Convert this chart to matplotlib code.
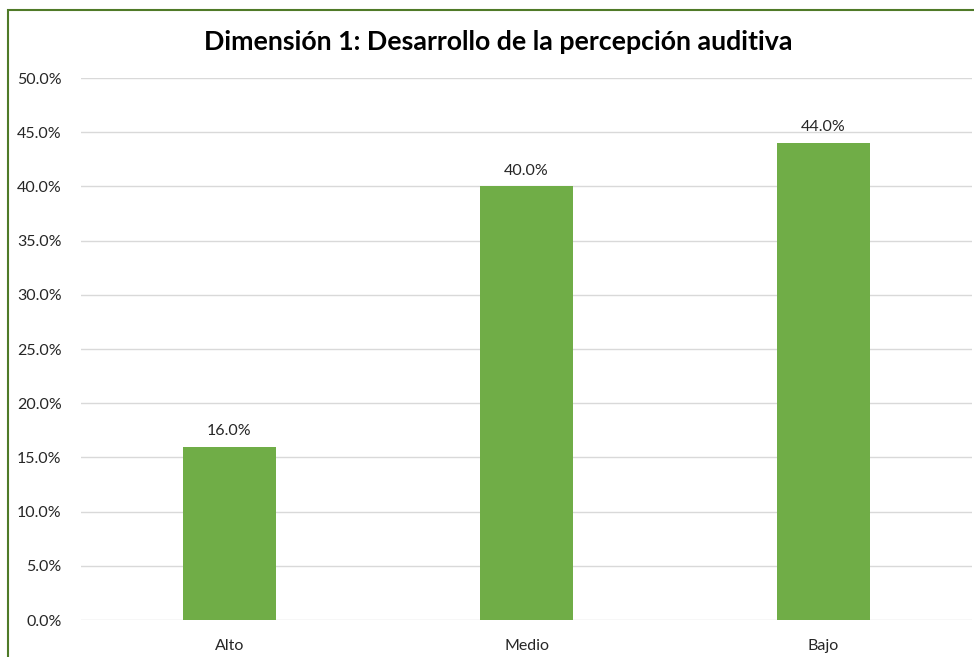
import matplotlib
matplotlib.use("Agg")
import matplotlib.pyplot as plt
from matplotlib.patches import Rectangle
from matplotlib.ticker import FuncFormatter, MultipleLocator

categories = ["Alto", "Medio", "Bajo"]
values = [16.0, 40.0, 44.0]
title = "Dimensión 1: Desarrollo de la percepción auditiva"

plt.rcParams['font.family'] = ['Lato', 'DejaVu Sans']

fig = plt.figure(figsize=(9.74, 6.57), dpi=100)
ax = fig.add_axes([81/974, 37/657, 891/974, 542/657])

x = range(len(categories))
bars = ax.bar(x, values, width=0.31, color="#70AD47", zorder=3)
for xi, v in zip(x, values):
    ax.text(xi, v + 0.8, f"{v:.1f}%", ha="center", va="bottom", fontsize=11.5, color="#262626")

ax.set_xlim(-0.5, 2.5)
ax.set_ylim(0, 50)
ax.yaxis.set_major_locator(MultipleLocator(5))
ax.yaxis.set_major_formatter(FuncFormatter(lambda v, p: f"{v:.1f}%"))
ax.set_xticks(list(x))
ax.set_xticklabels(categories)
ax.tick_params(axis="both", length=0, labelsize=11.5, colors="#262626")
ax.tick_params(axis="y", pad=14)
ax.tick_params(axis="x", pad=14)
ax.grid(axis="y", color="#D9D9D9", linewidth=1, zorder=0)
for s in ax.spines.values():
    s.set_visible(False)

fig.text(498.5/974, 1 - 42/657, title, ha="center", va="center", fontsize=19.3, fontweight="bold", color="#000000")

fig.patches.append(Rectangle((8/974, -0.1), 1.2, (657 - 10)/657 + 0.1, transform=fig.transFigure,
                             fill=False, edgecolor="#4F7A28", linewidth=1.5, zorder=10))

fig.savefig("out.png", dpi=100)
